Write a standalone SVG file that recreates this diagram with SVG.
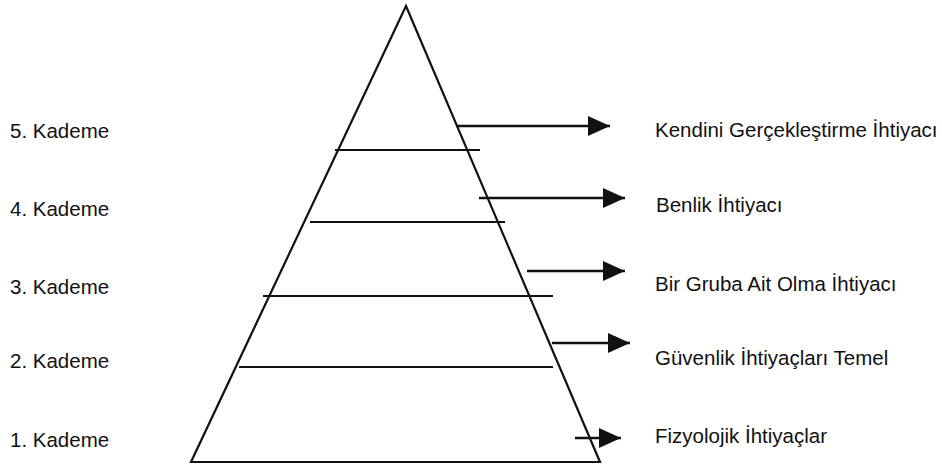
<svg xmlns="http://www.w3.org/2000/svg" width="942" height="466" viewBox="0 0 942 466">
<style>
.ln{stroke:#111;stroke-width:2.2;fill:none}
.ar{stroke:#111;stroke-width:2.6;fill:none;marker-end:url(#ah)}
.t{font-family:"Liberation Sans",Arial,sans-serif;font-size:20.5px;fill:#111}
</style>
<defs>
<marker id="ah" markerUnits="userSpaceOnUse" markerWidth="22" markerHeight="20" refX="22" refY="10" orient="auto">
<path d="M0,0 L22,10 L0,20 Z" fill="#111"/>
</marker>
</defs>
<rect width="942" height="466" fill="#fff"/>
<g id="pyramid">
<polygon class="ln" points="406,6 191,462 600,462" stroke-linejoin="miter"/>
<line class="ln" x1="335" y1="150" x2="480" y2="150"/>
<line class="ln" x1="310" y1="222" x2="505" y2="222"/>
<line class="ln" x1="263" y1="296" x2="553" y2="296"/>
<line class="ln" x1="239" y1="367" x2="553" y2="367"/>
</g>
<g id="connectors">
<line class="ar" x1="456" y1="126" x2="610" y2="126"/>
<line class="ar" x1="479" y1="198" x2="625" y2="198"/>
<line class="ar" x1="527" y1="271" x2="625" y2="271"/>
<line class="ar" x1="552" y1="343" x2="630" y2="343"/>
<line class="ar" x1="575" y1="438" x2="621" y2="438"/>
</g>
<g id="level5"><text class="t" x="10" y="138">5. Kademe</text></g>
<g id="level4"><text class="t" x="10" y="216">4. Kademe</text></g>
<g id="level3"><text class="t" x="10" y="294">3. Kademe</text></g>
<g id="level2"><text class="t" x="10" y="368">2. Kademe</text></g>
<g id="level1"><text class="t" x="10" y="447">1. Kademe</text></g>
<g id="need5"><text class="t" x="655" y="137">Kendini Gerçekleştirme İhtiyacı</text></g>
<g id="need4"><text class="t" x="656" y="212">Benlik İhtiyacı</text></g>
<g id="need3"><text class="t" x="655" y="291">Bir Gruba Ait Olma İhtiyacı</text></g>
<g id="need2"><text class="t" x="655" y="365">Güvenlik İhtiyaçları Temel</text></g>
<g id="need1"><text class="t" x="655" y="443">Fizyolojik İhtiyaçlar</text></g>
</svg>
